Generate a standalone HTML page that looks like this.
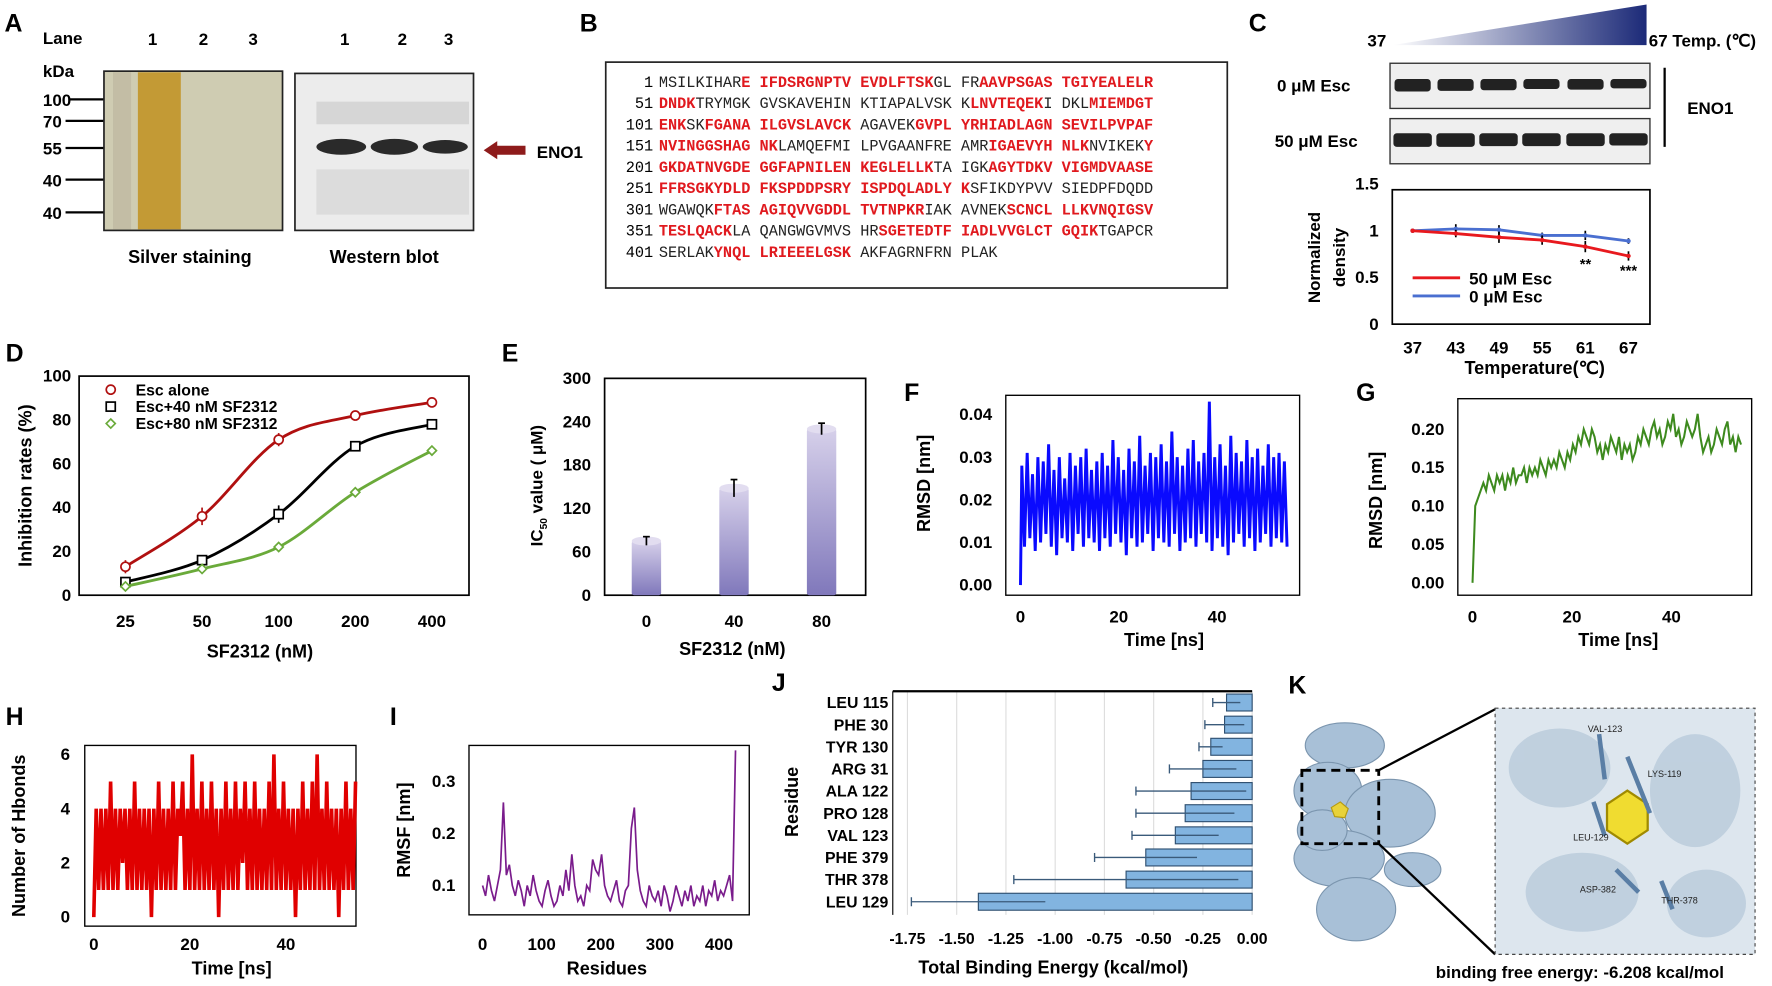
<!DOCTYPE html>
<html><head><meta charset="utf-8"><style>
html,body{margin:0;padding:0;background:#fff;}
svg{display:block;font-family:"Liberation Sans",sans-serif;}
.pl{font-weight:bold;font-size:22px;}
.b{font-weight:bold;}
.seq{font-family:"Liberation Mono",monospace;font-size:13.5px;}
</style></head><body>
<svg id="fig" width="1772" height="986" viewBox="0 0 1568 873" preserveAspectRatio="none" xmlns="http://www.w3.org/2000/svg">
<defs>
<linearGradient id="tri" x1="0" x2="1" y1="0" y2="0"><stop offset="0" stop-color="#fff"/><stop offset="1" stop-color="#1c2a78"/></linearGradient>
<linearGradient id="barg" x1="0" x2="0" y1="0" y2="1"><stop offset="0" stop-color="#d6d0ea"/><stop offset="1" stop-color="#8078bb"/></linearGradient>
</defs>
<!-- Panel A -->
<g>
<text class="pl" x="4" y="28">A</text>
<text class="b" x="38" y="39" font-size="15">Lane</text>
<g class="b" font-size="15" text-anchor="middle">
<text x="135" y="40">1</text><text x="180" y="40">2</text><text x="224" y="40">3</text>
<text x="305" y="40">1</text><text x="356" y="40">2</text><text x="397" y="40">3</text></g>
<text class="b" x="38" y="68" font-size="15">kDa</text>
<g class="b" font-size="15">
<text x="38" y="94">100</text><line x1="62" y1="88" x2="92" y2="88" stroke="#000" stroke-width="2"/>
<text x="38" y="113">70</text><line x1="58" y1="107" x2="92" y2="107" stroke="#000" stroke-width="2"/>
<text x="38" y="137">55</text><line x1="58" y1="131" x2="92" y2="131" stroke="#000" stroke-width="2"/>
<text x="38" y="165">40</text><line x1="58" y1="159" x2="92" y2="159" stroke="#000" stroke-width="2"/>
<text x="38" y="194">40</text><line x1="58" y1="188" x2="92" y2="188" stroke="#000" stroke-width="2"/></g>
<rect x="92" y="63" width="158" height="141" fill="#cfccb2" stroke="#222" stroke-width="1.5"/>
<rect x="122" y="64" width="38" height="139" fill="#c39a35"/>
<rect x="100" y="64" width="16" height="139" fill="#bdb6a0" opacity="0.7"/>
<rect x="261" y="65" width="158" height="139" fill="#ececec" stroke="#222" stroke-width="1.5"/>
<rect x="280" y="90" width="135" height="20" fill="#d6d6d6"/>
<rect x="280" y="150" width="135" height="40" fill="#dcdcdc"/>
<g fill="#2a2a2a">
<ellipse cx="302" cy="130" rx="22" ry="7"/><ellipse cx="349" cy="130" rx="21" ry="7"/><ellipse cx="394" cy="130" rx="20" ry="6"/></g>
<polygon points="428,133 440,125 440,129 465,129 465,137 440,137 440,141" fill="#8e1b1b"/>
<text class="b" x="475" y="140" font-size="15">ENO1</text>
<text class="b" x="168" y="233" font-size="16" text-anchor="middle">Silver staining</text>
<text class="b" x="340" y="233" font-size="16" text-anchor="middle">Western blot</text>
</g>
<!-- Panel B -->
<g>
<text class="pl" x="513" y="28">B</text>
<rect x="536" y="55" width="550" height="200" fill="#fff" stroke="#222" stroke-width="1.5"/>
<g id="seq" class="seq"></g>
</g>
<!-- Panel C -->
<g>
<text class="pl" x="1105" y="28">C</text>
<polygon points="1232,40 1457,4 1457,40" fill="url(#tri)"/>
<text class="b" x="1210" y="41" font-size="15">37</text>
<text class="b" x="1459" y="41" font-size="15">67 Temp. (℃)</text>
<text class="b" x="1130" y="81" font-size="15">0 μM Esc</text>
<text class="b" x="1128" y="130" font-size="15">50 μM Esc</text>
<rect x="1230" y="56" width="230" height="40" fill="#efefef" stroke="#333" stroke-width="1.2"/>
<rect x="1230" y="105" width="230" height="40" fill="#efefef" stroke="#333" stroke-width="1.2"/>
<g id="cbands" fill="#222"></g>
<line x1="1473" y1="60" x2="1473" y2="130" stroke="#000" stroke-width="2"/>
<text class="b" x="1493" y="101" font-size="15">ENO1</text>
<g id="chartC"></g>
</g>
<g id="chartD"></g>
<g id="chartE"></g>
<g id="chartF"></g>
<g id="chartG"></g>
<g id="chartH"></g>
<g id="chartI"></g>
<g id="chartJ"></g>
<!-- Panel K -->
<g>
<text class="pl" x="1140" y="614">K</text>
<g fill="#9fbad3" stroke="#6d8aa6" stroke-width="1" opacity="0.9">
<ellipse cx="1190" cy="660" rx="35" ry="20"/><ellipse cx="1175" cy="700" rx="30" ry="25"/>
<ellipse cx="1230" cy="720" rx="40" ry="30"/><ellipse cx="1185" cy="760" rx="40" ry="25"/>
<ellipse cx="1200" cy="805" rx="35" ry="28"/><ellipse cx="1250" cy="770" rx="25" ry="15"/>
<ellipse cx="1170" cy="735" rx="22" ry="18"/></g>
<rect x="1152" y="682" width="68" height="65" fill="none" stroke="#000" stroke-width="2.5" stroke-dasharray="8,5"/>
<line x1="1220" y1="682" x2="1323" y2="628" stroke="#000" stroke-width="2"/>
<line x1="1220" y1="747" x2="1323" y2="845" stroke="#000" stroke-width="2"/>
<polygon points="1178,715 1186,710 1193,716 1190,724 1181,723" fill="#e8d23a" stroke="#b59a10"/>
<rect x="1323" y="627" width="230" height="218" fill="#dde6ee" stroke="#444" stroke-dasharray="3,3"/>
<g fill="#b9cbdb" opacity="0.8"><ellipse cx="1380" cy="680" rx="45" ry="35"/><ellipse cx="1500" cy="700" rx="40" ry="50"/><ellipse cx="1400" cy="790" rx="50" ry="35"/><ellipse cx="1510" cy="800" rx="35" ry="30"/></g>
<polygon points="1422,712 1440,700 1458,712 1458,735 1440,747 1422,735" fill="#f0dc30" stroke="#a08a00" stroke-width="2"/>
<g stroke="#5a7ea5" stroke-width="4"><line x1="1415" y1="650" x2="1420" y2="690"/><line x1="1440" y1="670" x2="1460" y2="720"/><line x1="1410" y1="710" x2="1420" y2="740"/><line x1="1430" y1="770" x2="1450" y2="790"/><line x1="1470" y1="780" x2="1480" y2="805"/></g>
<g font-size="8" fill="#222"><text x="1405" y="648">VAL-123</text><text x="1458" y="688">LYS-119</text><text x="1392" y="744">LEU-129</text><text x="1398" y="790">ASP-382</text><text x="1470" y="800">THR-378</text></g>
<text class="b" x="1398" y="866" font-size="15" text-anchor="middle">binding free energy: -6.208 kcal/mol</text>
</g>
</svg>
<script>
const NS="http://www.w3.org/2000/svg";
// ===== data =====
const seqNums=[1,51,101,151,201,251,301,351,401];
const seqLines=[
[["MSILKIHAR","k"],["E IFDSRGNPTV EVDLFTSK","r"],["GL FR","k"],["AAVPSGAS TGIYEALELR","r"]],
[["DNDK","r"],["TRYMGK GVSKAVEHIN KTIAPALVSK K","k"],["LNVTEQEK","r"],["I DKL","k"],["MIEMDGT","r"]],
[["ENK","r"],["SK","k"],["FGANA ILGVSLAVCK","r"],[" AGAVEK","k"],["GVPL YRHIADLAGN SEVILPVPAF","r"]],
[["NVINGGSHAG NK","r"],["LAMQEFMI LPVGAANFRE AMR","k"],["IGAEVYH NLK","r"],["NVIKEK","k"],["Y","r"]],
[["GKDATNVGDE GGFAPNILEN KEGLELLK","r"],["TA IGK","k"],["AGYTDKV VIGMDVAASE","r"]],
[["FFRSGKYDLD FKSPDDPSRY ISPDQLADLY K","r"],["SFIKDYPVV SIEDPFDQDD","k"]],
[["WGAWQK","k"],["FTAS AGIQVVGDDL TVTNPKR","r"],["IAK AVNEK","k"],["SCNCL LLKVNQIGSV","r"]],
[["TESLQACK","r"],["LA QANGWGVMVS HR","k"],["SGETEDTF IADLVVGLCT GQIK","r"],["TGAPCR","k"]],
[["SERLAK","k"],["YNQL LRIEEELGSK","r"],[" AKFAGRNFRN PLAK","k"]]];
const tempCats=[37,43,49,55,61,67];
const esc50=[1,0.97,0.93,0.9,0.83,0.73];
const esc50err=[0.02,0.04,0.06,0.05,0.06,0.05];
const esc0=[1,1.02,1.01,0.95,0.95,0.89];
const esc0err=[0.02,0.05,0.05,0.03,0.05,0.03];
const band0=[1,0.95,0.9,0.8,0.85,0.75];
const band50=[1,1,0.95,0.95,0.95,0.9];
const dCats=["25","50","100","200","400"];
const dAlone=[13,36,71,82,88];
const dAloneErr=[3,4,3,2,1];
const d40=[6,16,37,68,78];
const d40Err=[2,2,4,2,2];
const d80=[4,12,22,47,66];
const d80Err=[2,2,2,2,2];
const eCats=["0","40","80"];
const eVals=[75,148,230];
const eErr=[6,12,8];
const fHi=[0.028,0.031,0.026,0.03,0.029,0.033,0.027,0.03,0.025,0.031,0.028,0.03,0.032,0.027,0.029,0.031,0.028,0.034,0.03,0.027,0.032,0.029,0.035,0.028,0.031,0.03,0.033,0.029,0.036,0.03,0.028,0.032,0.034,0.029,0.031,0.043,0.03,0.033,0.028,0.035,0.031,0.029,0.034,0.03,0.032,0.028,0.033,0.03,0.031,0.029];
const fLo=[0.009,0.011,0.008,0.01,0.012,0.009,0.007,0.011,0.01,0.008,0.012,0.009,0.011,0.01,0.008,0.011,0.009,0.012,0.01,0.007,0.011,0.009,0.01,0.012,0.008,0.011,0.01,0.009,0.012,0.008,0.01,0.011,0.009,0.012,0.01,0.008,0.011,0.009,0.007,0.01,0.012,0.009,0.011,0.008,0.01,0.012,0.009,0.011,0.01,0.009];
const gVals=[0,0.1,0.11,0.12,0.13,0.12,0.14,0.13,0.12,0.14,0.13,0.14,0.12,0.14,0.13,0.15,0.13,0.14,0.14,0.15,0.13,0.15,0.14,0.15,0.14,0.16,0.15,0.14,0.16,0.15,0.16,0.15,0.17,0.16,0.15,0.17,0.16,0.18,0.17,0.19,0.18,0.2,0.19,0.18,0.2,0.19,0.17,0.18,0.16,0.18,0.17,0.19,0.18,0.17,0.19,0.16,0.18,0.17,0.18,0.16,0.17,0.19,0.18,0.2,0.19,0.18,0.2,0.21,0.19,0.2,0.18,0.19,0.21,0.2,0.22,0.19,0.2,0.18,0.19,0.21,0.2,0.19,0.2,0.22,0.19,0.17,0.18,0.19,0.17,0.18,0.2,0.19,0.18,0.2,0.21,0.18,0.19,0.17,0.19,0.18];
const hVals=[0,4,1,4,1,4,1,5,1,4,1,4,2,4,1,4,1,5,1,4,1,4,1,4,0,4,1,5,1,4,1,4,1,5,1,4,3,5,1,4,1,6,1,4,1,5,1,4,1,5,1,4,0,4,1,5,1,4,1,5,1,4,2,5,1,4,1,5,1,4,1,4,1,5,1,6,1,4,1,5,1,4,1,4,0,4,1,5,1,4,1,5,1,6,1,4,1,5,1,4,1,4,0,4,1,5,1,4,1,5];
const iVals=[0.1,0.08,0.12,0.09,0.07,0.1,0.13,0.26,0.12,0.14,0.1,0.08,0.11,0.09,0.06,0.1,0.08,0.12,0.09,0.07,0.06,0.09,0.11,0.08,0.06,0.07,0.1,0.08,0.13,0.09,0.16,0.1,0.07,0.08,0.06,0.1,0.09,0.15,0.13,0.12,0.16,0.1,0.08,0.07,0.09,0.11,0.07,0.06,0.09,0.1,0.21,0.25,0.13,0.09,0.07,0.06,0.1,0.08,0.07,0.09,0.06,0.1,0.08,0.05,0.07,0.1,0.08,0.06,0.09,0.07,0.1,0.06,0.08,0.07,0.1,0.06,0.09,0.08,0.11,0.07,0.09,0.08,0.1,0.12,0.07,0.36];
const jCats=["LEU 115","PHE 30","TYR 130","ARG 31","ALA 122","PRO 128","VAL 123","PHE 379","THR 378","LEU 129"];
const jVals=[-0.13,-0.14,-0.21,-0.25,-0.31,-0.34,-0.39,-0.54,-0.64,-1.39];
const jErr=[0.07,0.1,0.06,0.17,0.28,0.25,0.22,0.26,0.57,0.34];
const jTicks=[-1.75,-1.5,-1.25,-1,-0.75,-0.5,-0.25,0];

function el(tag,attrs,parent,txt){const e=document.createElementNS(NS,tag);for(const k in attrs)e.setAttribute(k,attrs[k]);if(txt!==undefined)e.textContent=txt;(parent||document.getElementById('fig')).appendChild(e);return e;}

// ===== sequence =====
const sg=document.getElementById('seq');
seqLines.forEach((ln,i)=>{
  const y=77+i*18.8;
  const n=el('text',{x:578,y:y,'text-anchor':'end'},sg,String(seqNums[i]));
  
  
  const t=el('text',{x:583,y:y},sg);
  
  
  ln.forEach(s=>{el('tspan',{fill:s[1]==='r'?'#e0191e':'#222','font-weight':s[1]==='r'?'bold':'normal'},t,s[0]);});
});

// ===== C bands =====
const cb=document.getElementById('cbands');
const bx=[1250,1288,1326,1364,1403,1441];
bx.forEach((x,i)=>{
  const a=el('rect',{x:x-16,y:70,width:32,height:11*band0[i],rx:3},cb);
  
  
  const b=el('rect',{x:x-17,y:118,width:34,height:12*band50[i],rx:3},cb);
  
  
});

// ===== helpers =====
function axisText(g,x,y,s,anchor,size){const t=el('text',{x:x,y:y,'text-anchor':anchor||'middle','font-size':size||15,'font-weight':'bold'},g,s);return t;}
function ytitle(g,x,y,s,size){const t=el('text',{x:x,y:y,'text-anchor':'middle','font-size':size||15,'font-weight':'bold',transform:`rotate(-90 ${x} ${y})`},g,s);return t;}
function smooth(pts){let d=`M${pts[0][0]},${pts[0][1]}`;for(let i=0;i<pts.length-1;i++){const p0=pts[i-1]||pts[i],p1=pts[i],p2=pts[i+1],p3=pts[i+2]||p2;d+=` C${p1[0]+(p2[0]-p0[0])/6},${p1[1]+(p2[1]-p0[1])/6} ${p2[0]-(p3[0]-p1[0])/6},${p2[1]-(p3[1]-p1[1])/6} ${p2[0]},${p2[1]}`;}return d;}

// ===== Chart C =====
(function(){
const g=document.getElementById('chartC');


const X=i=>1250+i*38.2, Y=v=>287-v*82.7;
el('rect',{x:1232,y:168,width:228,height:119,fill:'none',stroke:'#000','stroke-width':1.5},g);
[0,0.5,1,1.5].forEach(v=>{const t=axisText(g,1220,Y(v)+5,String(v),'end');});
tempCats.forEach((c,i)=>{const t=axisText(g,X(i),313,String(c));});
[[esc0,esc0err,'#4a6fd0','series-0um'],[esc50,esc50err,'#e8191e','series-50um']].forEach(s=>{
  const p=el('polyline',{points:s[0].map((v,i)=>X(i)+','+Y(v)).join(' '),fill:'none',stroke:s[2],'stroke-width':2.5},g);
  
  
  s[0].forEach((v,i)=>{el('line',{x1:X(i),x2:X(i),y1:Y(v+s[1][i]),y2:Y(v-s[1][i]),stroke:'#000','stroke-width':1.5},g);el('circle',{cx:X(i),cy:Y(v),r:2,fill:s[2]},g);});
});
axisText(g,1403,238,'**','middle',13);axisText(g,1441,244,'***','middle',13);
el('line',{x1:1250,x2:1292,y1:246,y2:246,stroke:'#e8191e','stroke-width':2.5},g);
el('line',{x1:1250,x2:1292,y1:262,y2:262,stroke:'#4a6fd0','stroke-width':2.5},g);
axisText(g,1300,252,'50 μM Esc','start');axisText(g,1300,268,'0 μM Esc','start');
const yt=ytitle(g,1168,228,'Normalized');
ytitle(g,1190,228,'density');
const xt=axisText(g,1358,331,'Temperature(℃)','middle',16);
})();

// ===== Chart D =====
(function(){
const g=document.getElementById('chartD');


const X=i=>111+i*67.8, Y=v=>527-v*1.94;
axisText(g,5,320,'D','start',22);
el('rect',{x:70,y:333,width:345,height:194,fill:'none',stroke:'#000','stroke-width':1.5},g);
[0,20,40,60,80,100].forEach(v=>{const t=axisText(g,63,Y(v)+5,String(v),'end');});
dCats.forEach((c,i)=>{const t=axisText(g,X(i),555,c);});
const ser=[[dAlone,dAloneErr,'#b01010','circle','series-esc-alone'],[d40,d40Err,'#000','square','series-esc-40nm'],[d80,d80Err,'#6aaa3a','diamond','series-esc-80nm']];
ser.forEach(s=>{
  const p=el('path',{d:smooth(s[0].map((v,i)=>[X(i),Y(v)])),fill:'none',stroke:s[2],'stroke-width':2.5},g);
  
  
  s[0].forEach((v,i)=>{
    el('line',{x1:X(i),x2:X(i),y1:Y(v+s[1][i]),y2:Y(v-s[1][i]),stroke:s[2],'stroke-width':1.5},g);
    if(s[3]==='circle')el('circle',{cx:X(i),cy:Y(v),r:4,fill:'#fff',stroke:s[2],'stroke-width':1.5},g);
    else if(s[3]==='square')el('rect',{x:X(i)-4,y:Y(v)-4,width:8,height:8,fill:'#fff',stroke:s[2],'stroke-width':1.5},g);
    else el('polygon',{points:`${X(i)},${Y(v)-4} ${X(i)+4},${Y(v)} ${X(i)},${Y(v)+4} ${X(i)-4},${Y(v)}`,fill:'#fff',stroke:s[2],'stroke-width':1.5},g);
  });
});
el('circle',{cx:98,cy:345,r:4,fill:'#fff',stroke:'#b01010','stroke-width':1.5},g);
el('rect',{x:94,y:356,width:8,height:8,fill:'#fff',stroke:'#000','stroke-width':1.5},g);
el('polygon',{points:'98,371 102,375 98,379 94,375',fill:'#fff',stroke:'#6aaa3a','stroke-width':1.5},g);
axisText(g,120,350,'Esc alone','start',14);axisText(g,120,365,'Esc+40 nM SF2312','start',14);axisText(g,120,380,'Esc+80 nM SF2312','start',14);
const yt=ytitle(g,28,430,'Inhibition rates (%)',16);
const xt=axisText(g,230,582,'SF2312 (nM)','middle',16);
})();

// ===== Chart E =====
(function(){
const g=document.getElementById('chartE');


const X=i=>572+i*77.5, Y=v=>527-v*0.64;
axisText(g,444,320,'E','start',22);
el('rect',{x:535,y:335,width:231,height:192,fill:'none',stroke:'#000','stroke-width':1.5},g);
[0,60,120,180,240,300].forEach(v=>{const t=axisText(g,523,Y(v)+5,String(v),'end');});
eCats.forEach((c,i)=>{const t=axisText(g,X(i),555,c);});
eVals.forEach((v,i)=>{
  const b=el('rect',{x:X(i)-13,y:Y(v),width:26,height:527-Y(v),fill:'url(#barg)',rx:2},g);
  
  
  el('ellipse',{cx:X(i),cy:Y(v),rx:13,ry:4,fill:'#e2ddf0'},g);
  el('line',{x1:X(i),x2:X(i),y1:Y(v+eErr[i]),y2:Y(v-eErr[i]),stroke:'#000','stroke-width':1.5},g);
  el('line',{x1:X(i)-3,x2:X(i)+3,y1:Y(v+eErr[i]),y2:Y(v+eErr[i]),stroke:'#000','stroke-width':1.5},g);
});
const yt=el('text',{x:480,y:430,'text-anchor':'middle','font-size':15,'font-weight':'bold',transform:'rotate(-90 480 430)'},g);


el('tspan',{},yt,'IC');el('tspan',{'font-size':9,dy:4},yt,'50');el('tspan',{dy:-4},yt,' value ( μM)');
const xt=axisText(g,648,580,'SF2312 (nM)','middle',16);
})();

// ===== Chart F =====
(function(){
const g=document.getElementById('chartF');


const X=t=>903+t*4.35, Y=v=>518-v*3775;
axisText(g,800,355,'F','start',22);
el('rect',{x:890,y:350,width:260,height:177,fill:'none',stroke:'#000','stroke-width':1.2},g);
[0,0.01,0.02,0.03,0.04].forEach(v=>{const t=axisText(g,878,Y(v)+5,v.toFixed(2),'end');});
[0,20,40].forEach(v=>{const t=axisText(g,X(v),551,String(v));});
const n=fHi.length, dt=54.5/(2*n);
const pts=[[X(0),Y(0)]];
for(let i=0;i<n;i++){pts.push([X((2*i+0.5)*dt),Y(fHi[i])]);pts.push([X((2*i+1.5)*dt),Y(fLo[i])]);}
const p=el('polyline',{points:pts.map(q=>q.join(',')).join(' '),fill:'none',stroke:'#0a0aff','stroke-width':2.6},g);


const yt=ytitle(g,823,428,'RMSD [nm]',16);
const xt=axisText(g,1030,572,'Time [ns]','middle',16);
})();

// ===== Chart G =====
(function(){
const g=document.getElementById('chartG');


const X=t=>1303+t*4.4, Y=v=>516-v*680;
axisText(g,1200,355,'G','start',22);
el('rect',{x:1290,y:353,width:260,height:174,fill:'none',stroke:'#000','stroke-width':1.2},g);
[0,0.05,0.1,0.15,0.2].forEach(v=>{const t=axisText(g,1278,Y(v)+5,v.toFixed(2),'end');});
[0,20,40].forEach(v=>{const t=axisText(g,X(v),551,String(v));});
const dt=54/(gVals.length-1);
const p=el('polyline',{points:gVals.map((v,i)=>X(i*dt)+','+Y(v)).join(' '),fill:'none',stroke:'#3d8a1e','stroke-width':1.8},g);


const yt=ytitle(g,1223,443,'RMSD [nm]',16);
const xt=axisText(g,1432,572,'Time [ns]','middle',16);
})();

// ===== Chart H =====
(function(){
const g=document.getElementById('chartH');


const X=t=>83+t*4.25, Y=v=>812-v*24;
axisText(g,5,642,'H','start',22);
el('rect',{x:75,y:660,width:240,height:160,fill:'none',stroke:'#000','stroke-width':1.2},g);
[0,2,4,6].forEach(v=>{const t=axisText(g,62,Y(v)+5,String(v),'end');});
[0,20,40].forEach(v=>{const t=axisText(g,X(v),841,String(v));});
const dt=54.5/(hVals.length-1);
const p=el('polyline',{points:hVals.map((v,i)=>X(i*dt)+','+Y(v)).join(' '),fill:'none',stroke:'#e00000','stroke-width':3.2},g);


const yt=ytitle(g,22,740,'Number of Hbonds',16);
const xt=axisText(g,205,863,'Time [ns]','middle',16);
})();

// ===== Chart I =====
(function(){
const g=document.getElementById('chartI');


const X=r=>427+r*0.523, Y=v=>784-(v-0.1)*460;
axisText(g,345,642,'I','start',22);
el('rect',{x:415,y:660,width:248,height:150,fill:'none',stroke:'#000','stroke-width':1.2},g);
[0.1,0.2,0.3].forEach(v=>{const t=axisText(g,403,Y(v)+5,v.toFixed(1),'end');});
[0,100,200,300,400].forEach(v=>{const t=axisText(g,X(v),841,String(v));});
const dr=428/(iVals.length-1);
const p=el('polyline',{points:iVals.map((v,i)=>X(i*dr)+','+Y(v)).join(' '),fill:'none',stroke:'#7a1c8c','stroke-width':1.5},g);


const yt=ytitle(g,363,735,'RMSF [nm]',16);
const xt=axisText(g,537,863,'Residues','middle',16);
})();

// ===== Chart J =====
(function(){
const g=document.getElementById('chartJ');


const X=v=>1108+v*174.3, Y=i=>622+i*19.6;
axisText(g,683,612,'J','start',22);
jTicks.forEach(v=>{
  el('line',{x1:X(v),x2:X(v),y1:612,y2:810,stroke:'#ddd','stroke-width':1},g);
  const t=axisText(g,X(v),836,v.toFixed(2),'middle',14);
  
  
});
el('line',{x1:790,x2:1108,y1:612,y2:612,stroke:'#000','stroke-width':2},g);
el('line',{x1:790,x2:790,y1:612,y2:810,stroke:'#000','stroke-width':1},g);
jCats.forEach((c,i)=>{
  const t=axisText(g,786,Y(i)+5,c,'end',14);
  
  
  const v=jVals[i];
  const b=el('rect',{x:X(v),y:Y(i)-7.5,width:X(0)-X(v),height:15,fill:'#82b4e0',stroke:'#2e4f70','stroke-width':1},g);
  
  
  el('line',{x1:X(v-jErr[i]),x2:X(Math.min(0,v+jErr[i])),y1:Y(i),y2:Y(i),stroke:'#3a5a7a','stroke-width':1.2},g);
  el('line',{x1:X(v-jErr[i]),x2:X(v-jErr[i]),y1:Y(i)-4,y2:Y(i)+4,stroke:'#3a5a7a','stroke-width':1.2},g);
});
const yt=ytitle(g,706,710,'Residue',16);
const xt=axisText(g,932,862,'Total Binding Energy (kcal/mol)','middle',16);
})();
</script>
</body></html>
